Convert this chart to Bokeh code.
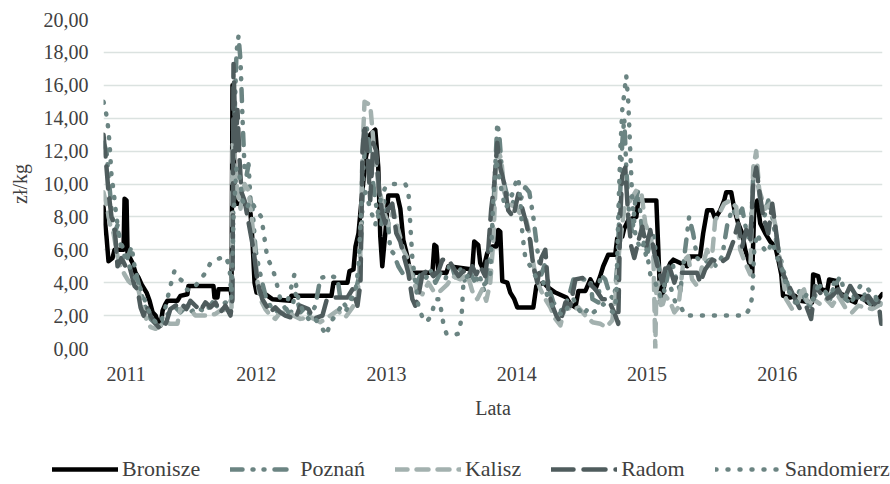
from bokeh.plotting import figure
from bokeh.layouts import column
from bokeh.models import Range1d, FixedTicker, Legend, LegendItem
from bokeh.embed import file_html
from bokeh.resources import INLINE

# x = week index of the weekly price series (week 0 = first week of Nov 2010)
YEAR_WEEKS = [9, 61, 113, 165, 217, 269]
YEAR_LABELS = ["2011", "2012", "2013", "2014", "2015", "2016"]
Y_TICKS = [0, 2, 4, 6, 8, 10, 12, 14, 16, 18, 20]
Y_LABELS = ["0,00", "2,00", "4,00", "6,00", "8,00", "10,00", "12,00", "14,00", "16,00", "18,00", "20,00"]
SERIES_NAMES = ["Bronisze", "Poznań", "Kalisz", "Radom", "Sandomierz"]

BRONISZE = [(0, 8.6), (1.2, 6.8), (2.0, 5.3), (3.6, 5.5), (4.4, 6.0), (8.0, 6.0), (8.4, 9.1), (9.2, 9.0), (9.6, 5.8),
            (11.6, 5.2), (12.8, 4.6), (14.0, 4.3), (15.2, 3.9), (17.2, 3.4), (18.4, 2.9), (19.6, 2.2), (20.8, 2.0),
            (22.0, 1.5), (22.8, 1.4), (23.6, 2.3), (24.7, 2.7), (25.5, 2.9), (29.5, 2.9), (30.7, 3.2), (33.5, 3.3),
            (33.9, 3.8), (43.9, 3.8), (44.3, 3.1), (45.5, 3.1), (45.9, 3.6), (50.7, 3.6), (51.1, 3.2), (51.5, 16.0),
            (51.9, 14.5), (52.3, 9.2), (53.1, 8.8), (56.7, 8.8), (58.7, 8.2), (59.5, 6.5), (60.3, 4.0), (61.1, 3.4),
            (64.6, 3.3), (67.4, 3.0), (74.6, 2.9), (75.0, 3.2), (91.0, 3.2), (91.8, 4.0), (97.4, 4.0), (98.2, 4.7),
            (99.8, 4.8), (100.6, 6.2), (101.8, 7.0), (103.0, 9.0), (104.6, 11.5), (106.5, 13.0), (108.5, 13.3),
            (109.7, 11.0), (110.5, 6.8), (111.3, 5.0), (112.5, 7.0), (113.7, 9.3), (117.3, 9.3), (118.5, 8.5),
            (119.7, 6.6), (121.3, 5.6), (122.5, 4.6), (131.3, 4.6), (132.1, 6.3), (132.9, 6.2), (133.7, 4.6),
            (136.9, 4.6), (137.7, 5.0), (147.2, 4.8), (148.0, 6.5), (149.6, 6.3), (150.4, 5.2), (151.6, 4.8),
            (153.2, 5.8), (155.2, 6.2), (156.8, 6.2), (157.6, 7.2), (158.4, 7.1), (159.2, 4.1), (161.2, 4.0),
            (162.4, 3.4), (164.0, 3.0), (165.2, 2.5), (171.6, 2.5), (172.8, 3.8), (175.6, 4.0), (177.6, 3.7),
            (180.4, 3.4), (184.8, 3.1), (186.4, 2.7), (188.4, 2.5), (189.6, 3.5), (192.4, 3.5), (194.4, 4.2),
            (196.4, 3.6), (198.3, 4.4), (199.5, 5.0), (201.5, 5.7), (204.3, 5.7), (205.1, 6.7), (207.1, 6.8),
            (207.9, 7.3), (209.5, 7.8), (212.7, 8.0), (213.5, 9.0), (220.7, 9.0), (221.5, 6.0), (222.3, 2.8),
            (223.5, 3.5), (224.7, 4.6), (226.3, 5.2), (227.5, 5.4), (233.0, 5.0), (234.2, 5.6), (238.2, 5.6),
            (239.4, 7.0), (241.0, 8.4), (243.0, 8.4), (244.2, 7.9), (246.2, 8.4), (247.8, 9.0), (248.6, 9.5),
            (250.6, 9.5), (251.8, 8.5), (253.4, 7.6), (255.0, 7.0), (256.2, 6.0), (257.4, 5.4), (259.0, 4.6),
            (259.8, 8.5), (261.0, 9.0), (262.2, 7.6), (264.2, 7.0), (266.2, 6.5), (268.2, 6.2), (269.4, 5.4),
            (270.6, 4.5), (271.3, 3.2), (274.1, 3.1), (276.1, 3.2), (278.1, 2.9), (282.9, 2.8), (283.3, 4.5),
            (285.3, 4.4), (286.5, 3.6), (288.9, 3.5), (289.7, 4.2), (292.5, 4.1), (293.3, 3.4), (296.1, 3.2),
            (297.3, 3.0), (300.1, 2.8), (300.9, 3.2), (303.7, 3.1), (304.9, 2.8), (308.1, 2.6), (309.3, 3.0),
            (310.9, 3.3)]

POZNAN = [(0, 12.5), (1.2, 12.0), (2.0, 10.5), (3.2, 8.5), (4.4, 7.0), (5.6, 7.5), (6.8, 6.5), (8.0, 6.0), (9.6, 5.5),
          (11.2, 6.2), (12.4, 5.0), (13.6, 4.2), (14.8, 3.5), (16.8, 2.5), (18.8, 1.8), (20.8, 1.5), (22.8, 1.2),
          (24.7, 2.0), (26.7, 2.2), (28.7, 2.5), (30.7, 2.2), (32.7, 2.5), (34.7, 2.2), (37.5, 2.5), (40.7, 2.2),
          (43.5, 2.8), (45.9, 2.5), (48.7, 2.8), (50.7, 2.6), (51.5, 5.0), (52.3, 14.0), (53.1, 18.0), (53.9, 19.0),
          (54.7, 17.5), (55.5, 14.0), (56.3, 11.0), (57.1, 10.5), (57.9, 11.2), (58.7, 9.0), (59.5, 8.5), (60.7, 6.0),
          (61.9, 5.0), (63.4, 4.0), (65.0, 3.0), (66.6, 2.6), (68.6, 2.2), (70.6, 2.4), (72.6, 2.5), (74.6, 2.0),
          (76.6, 3.4), (78.6, 2.2), (80.6, 2.5), (82.6, 2.0), (84.6, 2.6), (86.6, 4.3), (90.6, 4.4), (93.4, 4.3),
          (94.6, 3.0), (96.6, 2.6), (98.6, 2.8), (100.6, 3.5), (101.8, 4.2), (103.0, 7.0), (103.8, 11.0),
          (105.0, 13.5), (106.1, 12.5), (107.3, 10.5), (108.5, 9.0), (109.7, 8.0), (110.9, 7.5), (112.1, 9.0),
          (113.3, 8.2), (114.5, 6.0), (115.7, 5.8), (117.7, 5.0), (119.7, 4.5), (121.7, 5.0), (123.3, 4.6),
          (124.9, 3.8), (126.5, 4.5), (128.5, 4.2), (130.5, 4.8), (132.5, 4.0), (134.5, 4.6), (136.5, 4.2),
          (138.5, 5.3), (140.5, 4.3), (142.5, 4.8), (144.5, 4.0), (146.4, 4.6), (148.4, 4.0), (150.4, 4.3),
          (152.0, 3.5), (153.6, 4.5), (155.2, 7.0), (156.4, 11.0), (157.2, 13.7), (158.0, 13.0), (159.2, 10.5),
          (160.8, 9.5), (162.4, 9.0), (164.4, 8.8), (166.4, 9.0), (168.4, 9.8), (170.0, 9.5), (171.6, 8.0),
          (173.2, 6.0), (174.8, 4.5), (176.4, 5.2), (178.0, 3.6), (179.6, 2.8), (181.2, 2.5), (182.8, 2.3),
          (184.8, 2.8), (186.4, 3.5), (187.6, 4.2), (194.4, 4.2), (195.2, 3.0), (197.6, 2.8), (198.3, 4.5),
          (200.3, 4.2), (202.3, 3.2), (203.9, 3.0), (205.1, 5.0), (206.3, 9.5), (207.1, 12.5), (207.9, 14.0),
          (208.7, 11.0), (209.9, 8.0), (211.1, 7.0), (212.3, 9.0), (213.5, 9.6), (215.1, 7.0), (216.7, 5.5),
          (218.3, 6.5), (219.5, 7.0), (220.7, 5.6), (222.3, 4.5), (223.9, 3.5), (225.5, 4.6), (227.1, 5.2),
          (228.7, 4.2), (230.3, 3.5), (232.2, 6.0), (233.8, 8.0), (235.4, 7.0), (237.0, 5.5), (239.4, 5.2),
          (242.2, 5.4), (244.6, 5.0), (247.0, 5.6), (249.0, 7.5), (251.0, 8.5), (253.0, 8.0), (255.0, 8.5),
          (256.6, 7.2), (258.2, 6.5), (259.4, 10.5), (260.6, 11.0), (262.2, 9.0), (263.8, 8.0), (265.4, 9.0),
          (267.0, 8.0), (268.6, 6.5), (270.2, 5.6), (271.3, 4.8), (272.9, 4.0), (274.5, 3.2), (276.1, 2.8),
          (278.1, 3.6), (280.1, 3.0), (282.1, 2.6), (284.1, 3.2), (286.1, 3.8), (288.1, 3.4), (290.1, 3.0),
          (292.1, 4.3), (294.1, 3.2), (296.1, 3.0), (298.1, 2.8), (300.1, 3.3), (302.1, 3.8), (304.1, 3.2),
          (306.1, 2.7), (308.1, 3.2), (310.1, 2.6), (310.9, 2.9)]

KALISZ = [(0, 9.5), (1.6, 8.4), (2.8, 7.4), (4.0, 7.0), (5.6, 5.6), (6.8, 5.0), (8.4, 4.5), (10.0, 4.1), (12.0, 3.8),
          (13.6, 3.8), (14.8, 3.0), (16.0, 2.2), (17.6, 1.6), (18.8, 1.3), (20.8, 1.2), (22.8, 1.4), (24.7, 1.6),
          (26.7, 1.5), (29.5, 1.5), (30.7, 2.4), (33.5, 2.6), (36.7, 2.0), (40.7, 2.0), (44.7, 2.1), (47.5, 2.4),
          (49.9, 2.2), (51.1, 2.5), (51.5, 12.5), (52.3, 11.5), (53.5, 9.5), (54.7, 8.5), (56.3, 10.0), (57.9, 9.6),
          (59.1, 8.0), (60.3, 6.2), (61.5, 4.0), (62.6, 3.0), (64.6, 2.4), (66.6, 2.0), (68.6, 1.8), (70.6, 2.2),
          (74.6, 2.1), (78.6, 1.8), (82.6, 1.9), (86.6, 1.6), (90.6, 2.0), (93.4, 2.3), (96.6, 1.9), (99.4, 2.5),
          (101.4, 3.0), (102.6, 6.0), (103.4, 12.0), (104.2, 15.0), (106.5, 14.8), (108.1, 12.0), (109.7, 10.0),
          (111.7, 8.5), (113.7, 7.5), (115.7, 8.4), (117.7, 7.2), (119.7, 6.0), (121.3, 5.5), (122.9, 4.5),
          (124.9, 3.6), (127.3, 3.3), (129.7, 4.0), (132.1, 3.4), (134.5, 3.5), (137.3, 3.9), (139.3, 4.4),
          (142.5, 4.2), (145.3, 4.5), (147.2, 3.5), (149.2, 3.0), (151.2, 3.6), (152.8, 2.9), (154.4, 4.0),
          (155.6, 6.5), (156.8, 11.0), (157.6, 12.0), (158.8, 11.5), (160.0, 9.5), (161.6, 8.8), (164.4, 8.6),
          (166.4, 8.2), (168.8, 7.8), (170.0, 7.0), (171.2, 5.5), (172.4, 4.5), (174.4, 3.6), (176.4, 3.0),
          (178.4, 2.5), (180.4, 1.8), (182.4, 1.4), (184.4, 2.6), (187.2, 2.3), (189.6, 2.5), (192.4, 2.0),
          (195.2, 1.6), (198.3, 1.5), (200.7, 1.3), (203.1, 1.7), (204.3, 3.0), (205.9, 6.0), (207.9, 8.5),
          (210.3, 9.0), (212.7, 9.6), (214.7, 9.5), (216.3, 7.6), (218.3, 6.8), (219.5, 6.0), (220.3, 0.0),
          (220.7, 3.5), (221.5, 4.0), (222.7, 2.4), (224.3, 3.2), (226.3, 2.8), (227.9, 2.2), (229.5, 2.5),
          (231.5, 5.3), (233.4, 5.6), (235.0, 4.2), (237.0, 3.8), (239.0, 5.0), (241.0, 6.0), (242.6, 5.0),
          (244.2, 7.8), (245.8, 8.2), (247.8, 8.8), (250.2, 9.0), (252.6, 8.6), (254.2, 6.0), (256.2, 5.2),
          (258.2, 4.5), (259.4, 11.0), (260.6, 12.0), (261.8, 9.6), (264.2, 8.5), (266.2, 8.8), (268.2, 7.5),
          (269.4, 6.0), (271.0, 4.6), (272.5, 3.0), (274.9, 2.4), (277.3, 2.8), (279.3, 3.8), (281.3, 2.6),
          (283.3, 3.0), (286.1, 2.7), (288.5, 3.0), (290.9, 2.6), (293.3, 3.2), (296.1, 2.5), (298.9, 2.2),
          (301.3, 2.6), (304.1, 2.5), (306.9, 2.4), (309.3, 2.6), (310.9, 2.8)]

RADOM = [(0, 13.0), (1.2, 11.0), (2.0, 9.5), (3.2, 8.0), (4.4, 7.5), (5.6, 5.0), (7.2, 5.5), (8.8, 5.0), (10.0, 5.2),
         (11.2, 4.5), (12.4, 3.8), (13.6, 3.6), (14.8, 2.5), (16.0, 2.0), (17.2, 2.6), (18.8, 2.0), (20.4, 1.6),
         (22.0, 1.3), (23.5, 1.2), (25.1, 1.6), (26.7, 2.4), (28.7, 2.6), (30.7, 2.8), (33.1, 2.4), (34.7, 2.9),
         (36.7, 2.6), (38.7, 2.3), (40.7, 2.8), (42.7, 2.5), (44.7, 2.8), (46.7, 2.2), (48.7, 2.6), (50.7, 2.0),
         (51.5, 3.0), (51.9, 17.3), (52.3, 15.0), (52.7, 12.0), (53.5, 14.5), (54.3, 11.5), (55.1, 9.5), (56.3, 9.0),
         (57.5, 8.0), (58.7, 7.0), (59.9, 6.0), (61.1, 4.5), (61.9, 3.8), (63.4, 3.0), (65.0, 2.6), (66.6, 2.2),
         (68.6, 2.5), (70.6, 2.2), (72.6, 2.0), (76.6, 1.8), (78.6, 2.6), (81.8, 2.4), (83.8, 1.8), (87.4, 2.0),
         (89.0, 2.9), (91.8, 3.1), (97.4, 3.1), (99.4, 3.6), (101.4, 2.6), (102.6, 4.0), (103.4, 12.0),
         (104.2, 13.6), (105.3, 12.0), (106.5, 9.0), (107.7, 12.5), (108.9, 12.0), (110.1, 9.5), (111.3, 8.2),
         (112.5, 7.6), (113.7, 8.5), (115.3, 8.8), (116.9, 7.0), (118.5, 6.5), (120.1, 5.5), (121.7, 4.6),
         (123.3, 3.0), (124.5, 2.6), (125.7, 3.2), (127.3, 4.5), (129.7, 4.8), (131.7, 4.4), (133.7, 4.7),
         (135.3, 5.4), (137.7, 5.4), (139.3, 5.0), (141.7, 4.4), (143.7, 4.7), (145.7, 4.3), (147.2, 5.0),
         (148.8, 4.5), (150.4, 5.0), (152.4, 4.4), (153.6, 6.0), (154.8, 8.5), (156.0, 10.0), (157.2, 12.5),
         (158.4, 11.0), (160.0, 10.0), (161.6, 8.4), (163.6, 8.0), (165.6, 9.4), (167.2, 8.5), (168.8, 7.6),
         (170.4, 6.5), (171.6, 5.0), (173.2, 4.0), (174.8, 5.5), (176.4, 6.0), (177.6, 3.5), (179.2, 2.6),
         (180.8, 2.0), (182.4, 1.6), (184.4, 2.8), (186.4, 2.6), (188.4, 4.2), (191.6, 4.3), (193.6, 4.0),
         (196.4, 3.6), (199.1, 3.0), (201.5, 3.0), (203.9, 2.2), (205.5, 1.5), (206.3, 8.0), (207.1, 10.5),
         (208.3, 11.0), (209.5, 8.0), (210.7, 6.2), (211.9, 5.5), (213.5, 6.5), (215.1, 7.4), (216.7, 6.2),
         (218.3, 7.2), (219.9, 5.8), (221.5, 4.8), (223.1, 4.0), (224.7, 5.2), (226.3, 4.8), (227.9, 4.0),
         (229.1, 4.6), (237.0, 4.6), (238.2, 4.0), (240.2, 4.8), (243.0, 5.4), (246.2, 5.2), (249.0, 5.5),
         (251.4, 6.5), (253.4, 7.6), (255.0, 6.2), (256.6, 7.2), (258.2, 6.5), (259.4, 10.0), (260.6, 11.0),
         (261.8, 9.6), (263.4, 8.0), (265.4, 7.0), (267.0, 8.8), (268.6, 7.0), (270.2, 5.0), (271.7, 4.4),
         (273.7, 3.8), (276.1, 3.0), (278.1, 2.4), (280.5, 2.6), (282.5, 1.8), (284.1, 3.8), (286.1, 3.4),
         (288.5, 3.0), (290.9, 3.2), (293.3, 3.6), (295.7, 3.0), (298.1, 3.8), (300.5, 3.2), (302.9, 2.8),
         (305.3, 3.2), (307.7, 2.7), (309.3, 2.9), (310.5, 1.5)]

SANDOMIERZ = [(0, 15.0), (0.8, 14.5), (1.6, 13.8), (2.4, 12.5), (3.2, 10.5), (4.0, 9.6), (4.8, 8.5), (6.0, 7.0),
              (7.2, 6.0), (8.8, 5.5), (10.4, 5.0), (12.0, 4.5), (13.6, 4.0), (15.2, 3.5), (16.8, 2.8), (18.8, 2.0),
              (20.8, 1.6), (22.8, 1.5), (24.7, 2.5), (26.7, 3.8), (28.3, 4.7), (29.9, 4.3), (31.5, 4.1), (33.1, 3.6),
              (34.7, 3.5), (36.7, 3.8), (38.7, 4.2), (40.7, 4.6), (42.7, 5.2), (44.7, 5.4), (46.7, 5.5), (48.7, 5.6),
              (50.3, 5.0), (51.1, 3.0), (51.9, 8.0), (53.1, 11.0), (54.3, 10.5), (55.5, 9.0), (57.1, 8.5), (58.7, 9.0),
              (61.1, 8.4), (63.0, 8.0), (63.8, 7.2), (65.4, 5.5), (67.4, 4.9), (68.6, 4.3), (70.6, 3.0), (72.6, 2.4),
              (74.6, 3.5), (76.2, 4.5), (77.8, 3.0), (79.8, 2.2), (81.8, 1.8), (83.8, 2.0), (85.8, 1.5), (87.4, 1.2),
              (89.0, 0.8), (90.6, 1.6), (92.6, 2.0), (94.6, 2.5), (96.6, 2.2), (98.6, 3.0), (100.6, 3.5), (101.8, 5.0),
              (103.0, 9.0), (104.6, 9.5), (106.5, 8.5), (108.5, 7.5), (110.5, 9.0), (112.5, 9.8), (114.5, 10.0),
              (120.5, 10.0), (121.7, 9.6), (122.5, 7.5), (123.3, 5.5), (124.5, 4.0), (125.7, 2.6), (127.3, 1.9),
              (128.9, 1.6), (130.9, 2.0), (132.5, 3.0), (134.1, 3.0), (135.7, 1.5), (136.9, 0.9), (139.3, 0.8),
              (141.7, 0.9), (142.9, 1.8), (143.7, 4.0), (145.3, 4.4), (147.2, 4.5), (149.2, 4.2), (151.2, 3.8),
              (152.8, 4.0), (154.4, 4.5), (155.6, 9.0), (156.8, 11.5), (158.4, 10.0), (160.4, 8.5), (162.4, 9.0),
              (164.4, 10.0), (165.6, 10.4), (166.4, 9.0), (167.2, 7.0), (168.4, 5.5), (170.4, 5.0), (172.8, 4.3),
              (175.2, 4.2), (177.6, 3.0), (179.6, 2.5), (181.6, 2.2), (183.6, 2.0), (185.6, 2.6), (187.6, 3.0),
              (189.6, 2.4), (191.6, 2.0), (193.6, 2.5), (195.6, 2.2), (197.6, 2.4), (199.5, 2.7), (201.5, 2.4),
              (203.5, 2.2), (204.7, 3.0), (205.5, 8.0), (206.3, 12.0), (207.1, 14.5), (207.9, 15.5), (208.7, 16.6),
              (209.5, 15.0), (210.3, 12.0), (211.1, 9.0), (212.3, 7.0), (214.3, 6.0), (216.3, 6.5), (218.3, 4.5),
              (220.3, 4.0), (222.3, 3.2), (224.3, 4.0), (226.3, 3.8), (228.3, 2.8), (230.3, 2.6), (232.2, 2.0),
              (256.2, 2.0), (258.2, 2.5), (259.0, 3.2), (259.8, 6.0), (261.0, 7.0), (263.0, 6.2), (265.0, 5.8),
              (267.0, 6.5), (269.0, 5.5), (271.0, 4.8), (272.9, 3.6), (274.9, 3.2), (276.9, 2.8), (279.3, 3.0),
              (281.3, 3.4), (283.3, 3.0), (285.3, 3.8), (287.3, 3.6), (289.7, 3.2), (292.1, 3.8), (294.1, 4.4),
              (296.1, 3.3), (298.1, 2.8), (300.5, 3.2), (302.9, 3.0), (305.3, 3.6), (307.3, 3.2), (309.3, 2.8),
              (310.9, 2.6)]

SERIES_DATA = [BRONISZE, POZNAN, KALISZ, RADOM, SANDOMIERZ]
COLORS = ["#000000", "#6b8482", "#a3b1af", "#4f5c5d", "#6b8482"]
DASHES = ["solid", "12 10 1 10 1 10", "12 9", "22 10", "1 11"]

FONT = "Liberation Serif"
TEXT_COLOR = "#404040"
LINE_W = 4.5

p = figure(width=890, height=452, output_backend="svg", toolbar_location=None,
           x_range=Range1d(0, 311), y_range=Range1d(0, 20),
           min_border_left=103, min_border_right=8, min_border_top=19, min_border_bottom=104)
p.outline_line_color = None
p.background_fill_color = "white"
p.border_fill_color = "white"

p.xgrid.grid_line_color = None
p.ygrid.grid_line_color = "#dbe2e0"
p.ygrid.grid_line_width = 1.6
p.ygrid.ticker = FixedTicker(ticks=Y_TICKS)

p.yaxis.ticker = FixedTicker(ticks=Y_TICKS)
p.yaxis.major_label_overrides = {t: l for t, l in zip(Y_TICKS, Y_LABELS)}
p.xaxis.ticker = FixedTicker(ticks=YEAR_WEEKS)
p.xaxis.major_label_overrides = {t: l for t, l in zip(YEAR_WEEKS, YEAR_LABELS)}

for ax in (p.xaxis[0], p.yaxis[0]):
    ax.axis_line_color = None
    ax.major_tick_line_color = None
    ax.minor_tick_line_color = None
    ax.major_tick_in = 0
    ax.major_tick_out = 0
    ax.minor_tick_in = 0
    ax.minor_tick_out = 0
    ax.major_label_text_font = FONT
    ax.major_label_text_font_size = "20px"
    ax.major_label_text_color = TEXT_COLOR
    ax.axis_label_text_font = FONT
    ax.axis_label_text_font_size = "20px"
    ax.axis_label_text_font_style = "normal"
    ax.axis_label_text_color = TEXT_COLOR

p.yaxis.axis_label = "zł/kg"
p.yaxis.major_label_standoff = 15
p.yaxis.axis_label_standoff = 10
p.xaxis.axis_label = "Lata"
p.xaxis.major_label_standoff = 18
p.xaxis.axis_label_standoff = 13

renderers = []
for data, color, dash in zip(SERIES_DATA, COLORS, DASHES):
    wk = [d[0] for d in data]
    pr = [d[1] for d in data]
    r = p.line(wk, pr, line_color=color, line_width=LINE_W, line_dash=dash,
               line_cap="round", line_join="round")
    renderers.append(r)

# strip under the chart that only holds the legend; its ranges keep the series out of view
leg = figure(width=890, height=32, output_backend="svg", toolbar_location=None,
             x_range=Range1d(-50, -40), y_range=Range1d(-50, -40),
             x_axis_type=None, y_axis_type=None, min_border=0)
leg.outline_line_color = None
leg.xgrid.visible = False
leg.ygrid.visible = False
for fig in (p, leg):
    try:
        fig.frame_align = False
    except Exception:
        pass

leg_renderers = []
for data, color, dash in zip(SERIES_DATA, COLORS, DASHES):
    leg_renderers.append(leg.line([d[0] for d in data], [d[1] for d in data], line_color=color,
                                  line_width=LINE_W, line_dash=dash, line_cap="round", line_join="round"))

legend = Legend(items=[LegendItem(label=n, renderers=[r]) for n, r in zip(SERIES_NAMES, leg_renderers)],
                orientation="horizontal", location=(52, 2),
                glyph_width=66, glyph_height=22, label_standoff=4, spacing=30,
                padding=0, margin=0, border_line_color=None, background_fill_alpha=0,
                label_text_font=FONT, label_text_font_size="22px", label_text_color=TEXT_COLOR)
leg.add_layout(legend, "center")

open("out.html", "w").write(file_html(column(p, leg), INLINE))
